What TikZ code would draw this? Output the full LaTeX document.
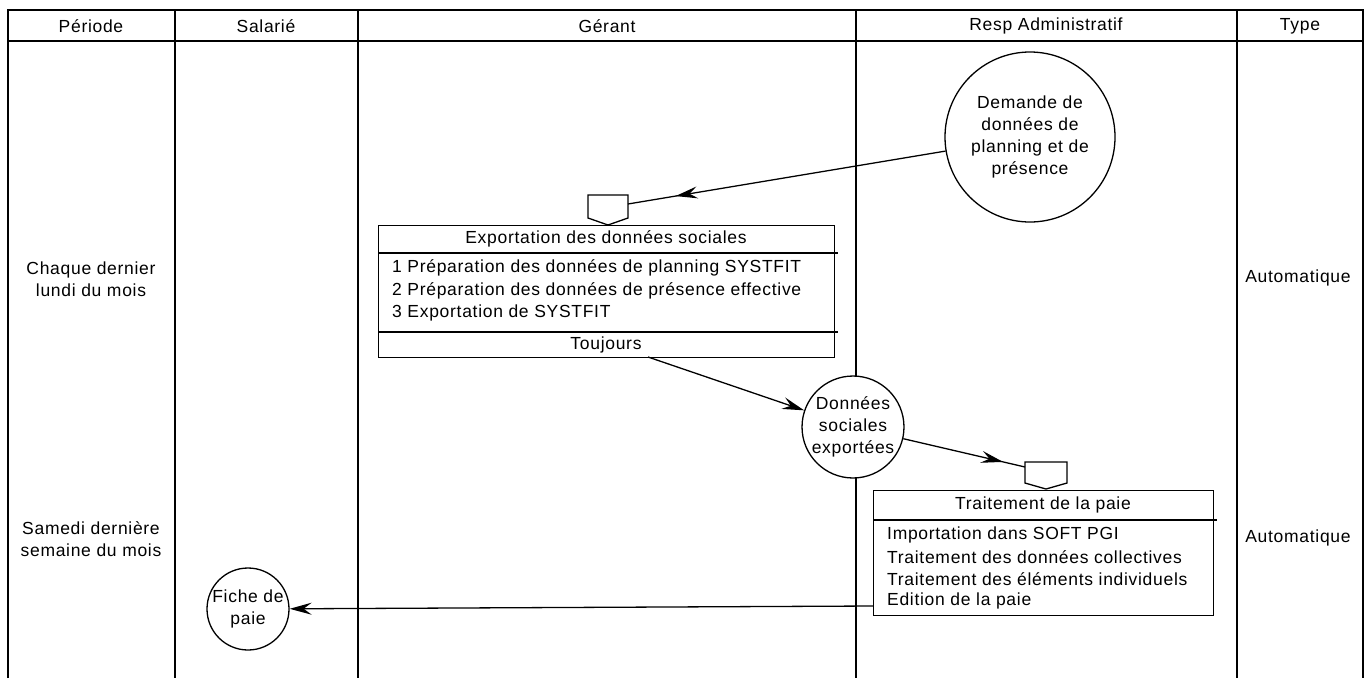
\documentclass[tikz,border=0pt]{standalone}
\usepackage{fontspec}
\setmainfont{Liberation Sans}[LetterSpace=4]
\usetikzlibrary{arrows.meta,decorations.markings}
\begin{document}
\begin{tikzpicture}[x=1pt,y=-1pt,
  lane/.style={line width=1.5pt},
  shp/.style={draw, line width=1.3pt, fill=white},
  bubble/.style={draw, circle, line width=1.3pt, fill=white, inner sep=0pt, align=center,
    font=\fontsize{17.5}{22}\selectfont},
  lbl/.style={align=center, inner sep=0pt, font=\fontsize{17.5}{22.5}\selectfont},
  itm/.style={align=left, anchor=west, inner sep=0pt, font=\fontsize{17.5}{22.5}\selectfont},
  conn/.style={line width=1.3pt},
  tipend/.style={-{Stealth[length=22pt,width=12pt,inset=8pt]}},
  midarrow/.style={postaction={decorate}, decoration={markings,
    mark=at position #1 with {\arrow{Stealth[length=22pt,width=12pt,inset=8pt]}}}}
]
\useasboundingbox (0,0) rectangle (1370,678);
% swimlane table
\draw[lane] (8,678) -- (8,10) -- (1363,10) -- (1363,678);
\draw[lane] (8,41) -- (1363,41);
\foreach \cx in {175,358,856,1237} { \draw[lane] (\cx,10) -- (\cx,678); }
% headers
\node[lbl] (hper) at (91,26) {Période};
\node[lbl] (hsal) at (266,26) {Salarié};
\node[lbl] (hger) at (607,26) {Gérant};
\node[lbl] (hres) at (1046,26) {Resp Administratif};
\node[lbl] (htyp) at (1300,26) {Type};
% row labels
\node[lbl] (per1) at (91,279) {Chaque dernier\\lundi du mois};
\node[lbl] (per2) at (91,539) {Samedi dernière\\semaine du mois};
\node[lbl] (typ1) at (1298,278) {Automatique};
\node[lbl] (typ2) at (1298,538) {Automatique};
% Exportation box
\node[shp, minimum width=456pt, minimum height=132pt, anchor=north west, inner sep=0pt] (exp) at (378,225) {};
\draw[conn] (378,253) -- (838,253);
\draw[conn] (378,332) -- (838,332);
\node[lbl] (expt) at (606,239) {Exportation des données sociales};
\node[itm] (expi1) at (392,268) {1 Préparation des données de planning SYSTFIT};
\node[itm] (expi2) at (392,291) {2 Préparation des données de présence effective};
\node[itm] (expi3) at (392,313) {3 Exportation de SYSTFIT};
\node[lbl] (expf) at (606,345) {Toujours};
% pentagon 1
\draw[shp] (588,218) -- (588,195) -- (628,195) -- (628,218) -- (608,225) -- cycle;
\coordinate (p1) at (628,204);
% Traitement box
\node[shp, minimum width=340pt, minimum height=125pt, anchor=north west, inner sep=0pt] (tra) at (873,490) {};
\draw[conn] (873,520) -- (1217,520);
\node[lbl] (trat) at (1043,505) {Traitement de la paie};
\node[itm] (trai1) at (887,535) {Importation dans SOFT PGI};
\node[itm] (trai2) at (887,557) {Traitement des données collectives};
\node[itm] (trai3) at (887,579) {Traitement des éléments individuels};
\node[itm] (trai4) at (887,601) {Edition de la paie};
% pentagon 2
\draw[shp] (1025,483) -- (1025,462) -- (1067,462) -- (1067,483) -- (1046,489) -- cycle;
\coordinate (p2) at (1025,467);
% circles
\node[bubble, minimum size=170pt] (dem) at (1030,137) {Demande de\\données de\\planning et de\\présence};
\node[bubble, minimum size=90pt] (don) at (853,427) {Données\\sociales\\exportées};
\node[bubble, minimum size=82pt] (fic) at (248,609) {Fiche de\\paie};
% connectors
\coordinate (expout) at (648,357);
\coordinate (traout) at (873,606);
\draw[conn, midarrow=0.85] (dem) -- (p1);
\draw[conn, tipend] (expout) -- (don);
\draw[conn, midarrow=0.82] (don) -- (p2);
\draw[conn, tipend] (traout) -- (fic);
\end{tikzpicture}
\end{document}
